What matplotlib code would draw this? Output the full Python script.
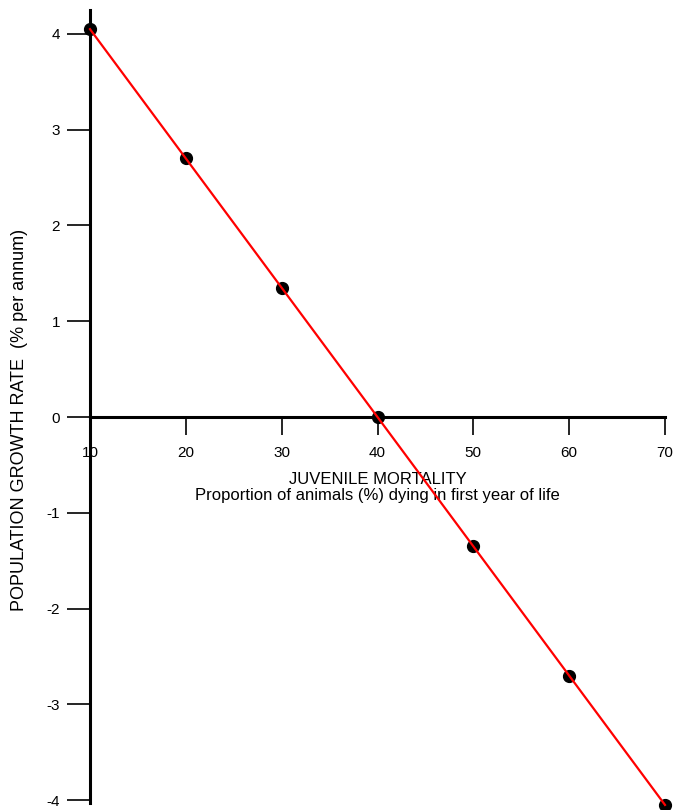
import matplotlib
matplotlib.use('Agg')
import matplotlib.pyplot as plt

plt.rcParams['font.family'] = ['Liberation Sans', 'DejaVu Sans']
plt.rcParams['axes.unicode_minus'] = False

# Juvenile mortality (%) vs population growth rate (% per annum)
mortality = [10, 20, 30, 40, 50, 60, 70]
growth = [4.05, 2.70, 1.35, 0.0, -1.35, -2.70, -4.05]
x_ticks = [10, 20, 30, 40, 50, 60, 70]
y_ticks = [-4, -3, -2, -1, 0, 1, 2, 3, 4]

W, H = 676, 810
fig = plt.figure(figsize=(W / 100, H / 100), dpi=100)

# axes placed in pixels: x 10..70 -> 90..665, y -4.03..4.25 -> 803..10
left, right = 90, 665
top, bottom = 10, 803
ax = fig.add_axes([left / W, (H - bottom) / H, (right - left) / W, (bottom - top) / H])
ax.set_xlim(10, 70)
ax.set_ylim(-4.03, 4.25)

ax.plot(mortality, growth, 'o', color='black', markersize=8.5, clip_on=False, zorder=3)
ax.plot(mortality, growth, '-', color='#ff0000', linewidth=1.6, clip_on=False, zorder=4)

for s in ['top', 'right']:
    ax.spines[s].set_visible(False)
ax.spines['bottom'].set_position(('data', 0))
ax.spines['bottom'].set_linewidth(2.2)
ax.spines['left'].set_linewidth(2.2)

ax.set_xticks(x_ticks)
ax.set_yticks(y_ticks)
ax.tick_params(axis='y', direction='out', length=16.5, width=1.2, pad=5, labelsize=11)
ax.tick_params(axis='x', direction='out', length=13, width=1.2, pad=8, labelsize=11)

ax.set_xlabel('JUVENILE MORTALITY\nProportion of animals (%) dying in first year of life',
              fontsize=12, linespacing=1.05)
ax.xaxis.set_label_coords(0.5, (bottom - 472) / (bottom - top))
ax.set_ylabel('POPULATION GROWTH RATE  (% per annum)', fontsize=13)
ax.yaxis.set_label_coords((19 - left) / (right - left), (bottom - 420) / (bottom - top))
ax.yaxis.label.set_verticalalignment('center')

fig.savefig('out.png', dpi=100)
